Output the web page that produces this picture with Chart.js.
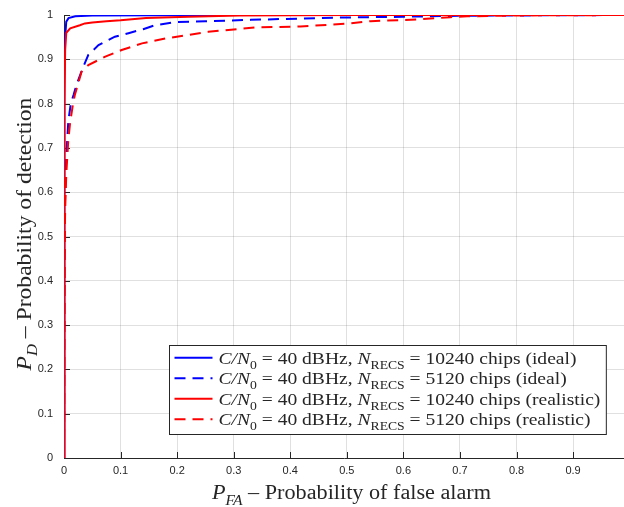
<!DOCTYPE html>
<html>
<head>
<meta charset="utf-8">
<script src="https://cdn.jsdelivr.net/npm/chart.js@4.4.0/dist/chart.umd.min.js"></script>
<style>
  html, body { margin: 0; padding: 0; background: #ffffff; }
  #wrap { width: 624px; height: 507px; }
</style>
</head>
<body>
<div id="wrap"><canvas id="roc" width="624" height="507"></canvas></div>
<script>
// ROC curves: probability of detection vs probability of false alarm
const pfaIdeal10240 = [0, 0.0005, 0.001, 0.002, 0.004, 0.008, 0.02, 0.05, 0.3, 1];
const pdIdeal10240  = [0, 0.5, 0.85, 0.95, 0.985, 0.993, 0.997, 0.999, 1, 1];

const pfaIdeal5120 = [0, 0.0005, 0.001, 0.002, 0.004, 0.0076, 0.012, 0.017, 0.022, 0.034, 0.043, 0.061, 0.09, 0.114, 0.14, 0.161, 0.196, 0.25, 0.33, 0.476, 0.6, 0.683, 0.8, 1];
const pdIdeal5120  = [0, 0.3, 0.5, 0.6, 0.68, 0.76, 0.8, 0.82, 0.842, 0.883, 0.91, 0.932, 0.951, 0.959, 0.968, 0.977, 0.984, 0.986, 0.989, 0.994, 0.996, 0.998, 0.999, 1];

const pfaReal10240 = [0, 0.0005, 0.001, 0.002, 0.004, 0.011, 0.028, 0.037, 0.05, 0.075, 0.1, 0.145, 0.22, 0.31, 0.5, 1];
const pdReal10240  = [0, 0.5, 0.8, 0.92, 0.96, 0.97, 0.977, 0.981, 0.983, 0.986, 0.988, 0.993, 0.996, 0.999, 1, 1];

const pfaReal5120 = [0, 0.0005, 0.001, 0.002, 0.004, 0.0076, 0.011, 0.016, 0.019, 0.031, 0.043, 0.073, 0.102, 0.138, 0.179, 0.22, 0.255, 0.338, 0.418, 0.506, 0.542, 0.625, 0.683, 0.713, 0.8, 1];
const pdReal5120  = [0, 0.3, 0.45, 0.56, 0.64, 0.718, 0.759, 0.8, 0.819, 0.872, 0.887, 0.906, 0.921, 0.936, 0.947, 0.955, 0.962, 0.972, 0.974, 0.981, 0.986, 0.99, 0.995, 0.997, 0.999, 1];

// legend entries
const legendCn0   = [40, 40, 40, 40];
const legendChips = [10240, 5120, 10240, 5120];
const legendMode  = ['ideal', 'ideal', 'realistic', 'realistic'];

// tick labels
const xTickValues = [0, 0.1, 0.2, 0.3, 0.4, 0.5, 0.6, 0.7, 0.8, 0.9];
const yTickValues = [0, 0.1, 0.2, 0.3, 0.4, 0.5, 0.6, 0.7, 0.8, 0.9, 1];

const BLUE = '#0000ff';
const RED = '#ff0000';
const AXIS = '#262626';
const DASH = [11, 7];
const SERIF = '"Liberation Serif", "DejaVu Serif", serif';
const SANS = '"Liberation Sans", Arial, sans-serif';

function toPoints(xs, ys) {
  return xs.map((x, i) => ({ x: x, y: ys[i] }));
}

const series = [
  { pts: toPoints(pfaIdeal10240, pdIdeal10240), color: BLUE, dash: [] },
  { pts: toPoints(pfaIdeal5120, pdIdeal5120), color: BLUE, dash: DASH },
  { pts: toPoints(pfaReal10240, pdReal10240), color: RED, dash: [] },
  { pts: toPoints(pfaReal5120, pdReal5120), color: RED, dash: DASH }
];

// rich text: runs of {t, it (italic), sub (subscript)}, slightly widened glyphs
function setRunFont(ctx, r, size) {
  ctx.font = (r.it ? 'italic ' : '') + (r.sub ? size * 0.7 : size) + 'px ' + SERIF;
}
function runWidth(ctx, runs, size, sx) {
  let w = 0;
  for (const r of runs) {
    setRunFont(ctx, r, size);
    w += ctx.measureText(r.t).width * sx;
  }
  return w;
}
function drawRuns(ctx, x, y, runs, size, sx) {
  ctx.textBaseline = 'alphabetic';
  ctx.textAlign = 'left';
  for (const r of runs) {
    setRunFont(ctx, r, size);
    ctx.save();
    ctx.translate(x, y + (r.sub ? size * 0.3 : 0));
    ctx.scale(sx, 1);
    ctx.fillText(r.t, 0, 0);
    ctx.restore();
    x += ctx.measureText(r.t).width * sx;
  }
  return x;
}

function legendRuns(i) {
  return [
    { t: 'C/N', it: true },
    { t: '0', sub: true },
    { t: ' = ' + legendCn0[i] + ' dBHz, ' },
    { t: 'N', it: true },
    { t: 'RECS', sub: true },
    { t: ' = ' + legendChips[i] + ' chips (' + legendMode[i] + ')' }
  ];
}

const decor = {
  id: 'decor',
  beforeDatasetsDraw(chart) {
    // inward tick marks on the left and bottom axes
    const { ctx, chartArea: a, scales } = chart;
    ctx.save();
    ctx.strokeStyle = AXIS;
    ctx.lineWidth = 1;
    ctx.beginPath();
    for (const v of xTickValues) {
      const px = Math.round(scales.x.getPixelForValue(v)) + 0.5;
      ctx.moveTo(px, a.bottom);
      ctx.lineTo(px, a.bottom - 6);
    }
    for (const v of yTickValues) {
      const py = Math.round(scales.y.getPixelForValue(v)) + 0.5;
      ctx.moveTo(a.left, py);
      ctx.lineTo(a.left + 6, py);
    }
    ctx.stroke();
    ctx.restore();
  },
  afterDatasetsDraw(chart) {
    // legend box in the lower right of the plot
    const { ctx, chartArea: a } = chart;
    const size = 17, sx = 1.15;
    const rowH = 20.5;
    const sample = 38, gap = 6, padL = 5, padR = 6;
    let tw = 0;
    for (let i = 0; i < series.length; i++) tw = Math.max(tw, runWidth(ctx, legendRuns(i), size, sx));
    const w = padL + sample + gap + tw + padR;
    const h = rowH * series.length + 7;
    const right = a.right - 18, bottom = a.bottom - 24;
    const left = Math.round(right - w) + 0.5, top = Math.round(bottom - h) + 0.5;
    ctx.save();
    ctx.fillStyle = '#ffffff';
    ctx.fillRect(left, top, w, h);
    ctx.strokeStyle = AXIS;
    ctx.lineWidth = 1;
    ctx.strokeRect(left, top, w, h);
    for (let i = 0; i < series.length; i++) {
      const cy = top + 5 + rowH * (i + 0.5);
      ctx.strokeStyle = series[i].color;
      ctx.lineWidth = 2;
      ctx.setLineDash(series[i].dash);
      ctx.beginPath();
      ctx.moveTo(left + padL, cy - 3);
      ctx.lineTo(left + padL + sample, cy - 3);
      ctx.stroke();
      ctx.setLineDash([]);
      ctx.fillStyle = AXIS;
      drawRuns(ctx, left + padL + sample + gap, cy + 3, legendRuns(i), size, sx);
    }
    ctx.restore();
  },
  afterDraw(chart) {
    // axis titles with subscripts
    const { ctx, chartArea: a } = chart;
    const size = 20;
    ctx.save();
    ctx.fillStyle = AXIS;
    const xRuns = [{ t: 'P', it: true }, { t: 'FA', it: true, sub: true }, { t: ' \u2013 Probability of false alarm' }];
    drawRuns(ctx, 212, 499, xRuns, size, 1.11);
    const yRuns = [{ t: 'P', it: true }, { t: 'D', it: true, sub: true }, { t: ' \u2013 Probability of detection' }];
    const yw = runWidth(ctx, yRuns, size, 1.18);
    ctx.translate(31, 234);
    ctx.rotate(-Math.PI / 2);
    drawRuns(ctx, -yw / 2, 0, yRuns, size, 1.18);
    ctx.restore();
  }
};

new Chart(document.getElementById('roc'), {
  type: 'line',
  data: {
    datasets: series.map((s, i) => ({
      data: s.pts,
      borderColor: s.color,
      backgroundColor: s.color,
      borderDash: s.dash,
      borderWidth: 2,
      pointRadius: 0,
      tension: 0,
      fill: false,
      order: series.length - i
    }))
  },
  options: {
    responsive: false,
    devicePixelRatio: 1,
    animation: false,
    events: [],
    layout: { padding: { top: 15, right: 0, left: 0, bottom: 0 } },
    plugins: { legend: { display: false }, tooltip: { enabled: false } },
    scales: {
      x: {
        type: 'linear',
        min: 0,
        max: 0.99,
        afterBuildTicks: (sc) => { sc.ticks = xTickValues.map(v => ({ value: v })); },
        afterFit: (sc) => { sc.height = 49; sc.paddingLeft = 0; sc.paddingRight = 0; },
        ticks: {
          padding: 6,
          color: AXIS,
          font: { family: SANS, size: 11 },
          callback: (v) => String(+v.toFixed(1))
        },
        grid: { color: 'rgba(38,38,38,0.14)', lineWidth: 1, drawTicks: false },
        border: { display: true, color: AXIS, width: 1 }
      },
      y: {
        type: 'linear',
        min: 0,
        max: 1,
        afterBuildTicks: (sc) => { sc.ticks = yTickValues.map(v => ({ value: v })); },
        afterFit: (sc) => { sc.width = 64; sc.paddingTop = 0; sc.paddingBottom = 0; },
        ticks: {
          padding: 11,
          color: AXIS,
          font: { family: SANS, size: 11 },
          callback: (v) => String(+v.toFixed(1))
        },
        grid: { color: 'rgba(38,38,38,0.14)', lineWidth: 1, drawTicks: false },
        border: { display: true, color: AXIS, width: 1 }
      }
    }
  },
  plugins: [decor]
});
</script>
</body>
</html>
